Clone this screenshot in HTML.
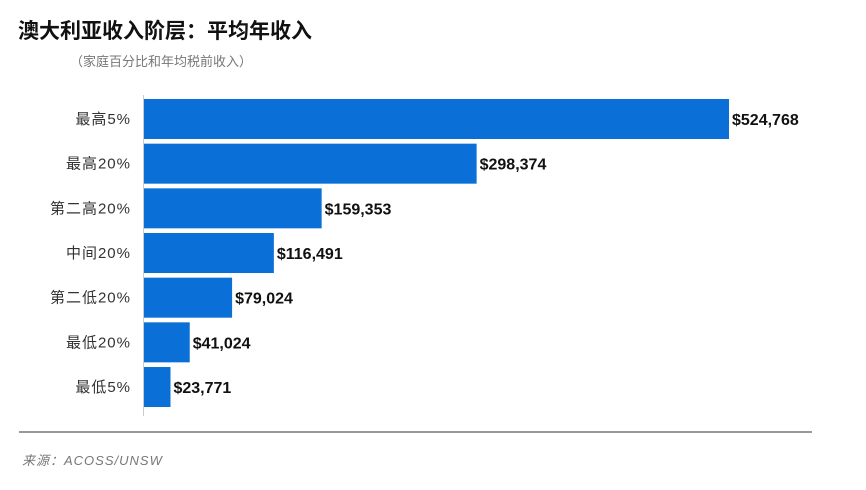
<!DOCTYPE html>
<html><head><meta charset="utf-8">
<style>
body{margin:0;background:#fff;width:866px;height:485px;overflow:hidden;font-family:"Liberation Sans","Noto Sans CJK SC",sans-serif;}
</style></head>
<body>
<svg width="866" height="485">
<text x="18" y="38" font-size="21" font-weight="bold" fill="#111" font-family="Liberation Sans, Noto Sans CJK SC, sans-serif">澳大利亚收入阶层：平均年收入</text>
<text x="70" y="66" font-size="13" fill="#777" font-family="Liberation Sans, Noto Sans CJK SC, sans-serif">（家庭百分比和年均税前收入）</text>
<line x1="143.5" y1="95" x2="143.5" y2="416" stroke="#ccc" stroke-width="1"/>
<g id="bars"></g>
<line x1="19" y1="432" x2="812" y2="432" stroke="#999" stroke-width="2"/>
<text x="22" y="465" font-size="13" font-style="italic" letter-spacing="1" fill="#777" font-family="Liberation Sans, Noto Sans CJK SC, sans-serif">来源：ACOSS/UNSW</text>
</svg>
<script>
const categories=["最高5%","最高20%","第二高20%","中间20%","第二低20%","最低20%","最低5%"];
const values=[524768,298374,159353,116491,79024,41024,23771];
const valueLabels=["$524,768","$298,374","$159,353","$116,491","$79,024","$41,024","$23,771"];
const x0=144, maxPx=585, maxVal=524768;
function xs(v){return v/maxVal*maxPx;}
function ys(i){return 99+i*44.67;}
const g=document.getElementById('bars');
const NS="http://www.w3.org/2000/svg";
categories.forEach((c,i)=>{
  const r=document.createElementNS(NS,'rect');
  r.setAttribute('x',x0);r.setAttribute('y',ys(i));
  r.setAttribute('width',xs(values[i]));r.setAttribute('height',40);
  r.setAttribute('fill','#0a6fd6');
  
  
  g.appendChild(r);
  const t=document.createElementNS(NS,'text');
  t.setAttribute('x',131);t.setAttribute('y',ys(i)+25);
  t.setAttribute('text-anchor','end');t.setAttribute('font-size','15');t.setAttribute('fill','#333');
  t.setAttribute('letter-spacing','1');
  t.setAttribute('font-family','Liberation Sans, Noto Sans CJK SC, sans-serif');
  t.textContent=c;
  
  
  g.appendChild(t);
  const v=document.createElementNS(NS,'text');
  v.setAttribute('x',x0+xs(values[i])+3);v.setAttribute('y',ys(i)+26);
  v.setAttribute('font-size','16');v.setAttribute('font-weight','bold');v.setAttribute('fill','#111');
  v.setAttribute('font-family','Liberation Sans, sans-serif');
  v.textContent=valueLabels[i];
  
  
  g.appendChild(v);
});
</script>
</body></html>
